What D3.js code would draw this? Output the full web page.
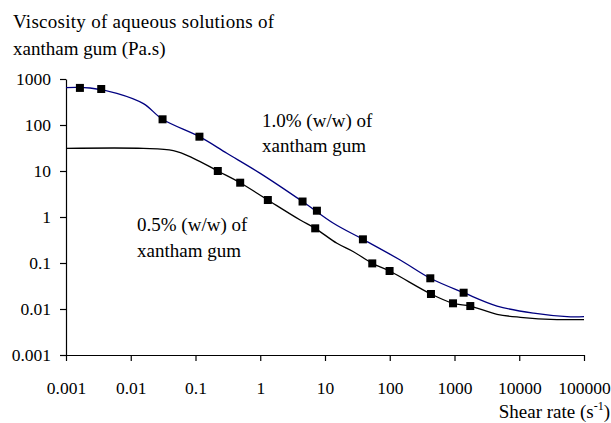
<!DOCTYPE html>
<html>
<head>
<meta charset="utf-8">
<script src="https://cdn.jsdelivr.net/npm/d3@7"></script>
</head>
<body style="margin:0; background:#fff">
<svg id="chart" width="611" height="423"></svg>
<script>
// 目盛り
var xTicks = [0.001, 0.01, 0.1, 1, 10, 100, 1000, 10000, 100000];
var xTickLabels = ["0.001", "0.01", "0.1", "1", "10", "100", "1000", "10000", "100000"];
var yTicks = [0.001, 0.01, 0.1, 1, 10, 100, 1000];
var yTickLabels = ["0.001", "0.01", "0.1", "1", "10", "100", "1000"];

// 1.0% (w/w) の曲線 [shear rate, viscosity]
var curve10 = [
  [0.001, 650], [0.00235, 637], [0.0061, 489], [0.0157, 292], [0.031, 133],
  [0.115, 55.7], [0.305, 24.3], [1.0, 8.9], [4.5, 2.17], [13.5, 0.73],
  [38.5, 0.327], [145, 0.116], [423, 0.0465], [1384, 0.0226], [4540, 0.0116],
  [16700, 0.0081], [54800, 0.0068], [100000, 0.0068]
];
// 1.0% の測定点
var points10 = [
  [0.00164, 640], [0.0035, 606], [0.031, 133], [0.115, 55.7], [4.5, 2.17],
  [7.5, 1.37], [38.5, 0.327], [423, 0.0465], [1384, 0.0226]
];

// 0.5% (w/w) の曲線
var curve05 = [
  [0.001, 31], [0.0157, 31], [0.0455, 27.6], [0.093, 18.9], [0.221, 10],
  [0.49, 5.57], [1.31, 2.34], [4.14, 0.86], [7.06, 0.567], [15.3, 0.268],
  [27.5, 0.176], [53.7, 0.098], [99.4, 0.067], [433, 0.0212], [949, 0.0133],
  [1754, 0.0116], [4540, 0.00767], [10400, 0.0066], [38400, 0.0059], [100000, 0.0059]
];
// 0.5% の測定点
var points05 = [
  [0.221, 10], [0.49, 5.57], [1.31, 2.34], [7.06, 0.567], [53.7, 0.098],
  [99.4, 0.067], [433, 0.0212], [949, 0.0133], [1754, 0.0116]
];

var svg = d3.select("#chart");
var fontFamily = "Liberation Serif";
var tickFontSize = 17.5;
var labelFontSize = 19;

var xScale = d3.scaleLog().domain([0.001, 100000]).range([66, 584]);
var yScale = d3.scaleLog().domain([0.001, 1000]).range([355, 79]);

// y軸
var yAxis = d3.axisLeft(yScale)
  .tickValues(yTicks)
  .tickFormat((d, i) => yTickLabels[i])
  .tickSizeInner(6)
  .tickSizeOuter(0)
  .tickPadding(9);
svg.append("g")
  .attr("class", "yAxis")
  .attr("transform", "translate(66,0)")
  .call(yAxis);

// x軸
var xAxis = d3.axisBottom(xScale)
  .tickValues(xTicks)
  .tickFormat((d, i) => xTickLabels[i])
  .tickSizeInner(6)
  .tickSizeOuter(0)
  .tickPadding(21);
svg.append("g")
  .attr("class", "xAxis")
  .attr("transform", "translate(0,355)")
  .call(xAxis);

svg.selectAll(".xAxis, .yAxis")
  .attr("font-family", fontFamily)
  .attr("font-size", tickFontSize);
svg.selectAll(".xAxis, .yAxis").selectAll("path, line")
  .attr("stroke", "#000")
  .attr("stroke-width", 1.2);

// 曲線
var line = d3.line()
  .x((d) => xScale(d[0]))
  .y((d) => yScale(d[1]))
  .curve(d3.curveCatmullRom.alpha(0.5));

svg.append("path")
  .datum(curve05)
  .attr("d", line)
  .attr("fill", "none")
  .attr("stroke", "#000")
  .attr("stroke-width", 1.3);

svg.append("path")
  .datum(curve10)
  .attr("d", line)
  .attr("fill", "none")
  .attr("stroke", "#000080")
  .attr("stroke-width", 1.3);

// 測定点 (黒い四角)
var markerSize = 8;
svg.append("g")
  .selectAll("rect")
  .data(points10.concat(points05))
  .enter()
  .append("rect")
  .attr("x", (d) => xScale(d[0]) - markerSize / 2)
  .attr("y", (d) => yScale(d[1]) - markerSize / 2)
  .attr("width", markerSize)
  .attr("height", markerSize)
  .attr("fill", "#000");

// テキストを置く
function addText(x, y, str) {
  return svg.append("text")
    .attr("x", x)
    .attr("y", y)
    .attr("font-family", fontFamily)
    .attr("font-size", labelFontSize)
    .attr("fill", "#000")
    .text(str);
}

// タイトル
addText(13, 28, "Viscosity of aqueous solutions of").attr("textLength", 261);
addText(13, 55, "xantham gum (Pa.s)");

// 注釈
addText(262, 127, "1.0% (w/w) of");
addText(262, 152, "xantham gum");
addText(137, 231, "0.5% (w/w) of");
addText(137, 257, "xantham gum");

// x軸タイトル
var xTitle = svg.append("text")
  .attr("x", 610)
  .attr("y", 418)
  .attr("text-anchor", "end")
  .attr("font-family", fontFamily)
  .attr("font-size", labelFontSize);
xTitle.append("tspan").text("Shear rate (s");
xTitle.append("tspan")
  .attr("dy", -8)
  .attr("font-size", 12)
  .text("-1");
xTitle.append("tspan")
  .attr("dy", 8)
  .text(")");
</script>
</body>
</html>
